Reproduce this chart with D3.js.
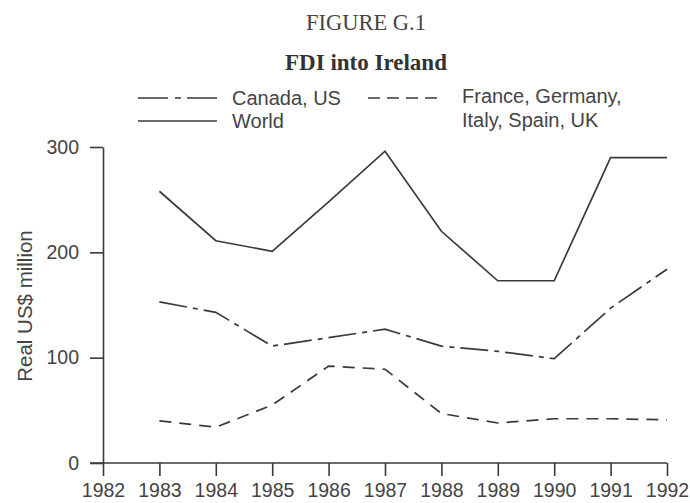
<!DOCTYPE html>
<html>
<head>
<meta charset="utf-8">
<script src="https://cdn.jsdelivr.net/npm/d3@7"></script>
<style>
  html, body { margin: 0; padding: 0; background: #fff; }
  svg { display: block; }
</style>
</head>
<body>
<svg id="chart" width="690" height="503"></svg>
<script>
// FDI into Ireland, real US$ million, 1983-1992
const years = [1983, 1984, 1985, 1986, 1987, 1988, 1989, 1990, 1991, 1992];
const world = [258, 211, 201, 248, 296, 220, 173, 173, 290, 290];
const canadaUS = [153, 143, 111, 119, 127, 111, 106, 99, 147, 184];
const europe = [40, 34, 55, 92, 89, 47, 38, 42, 42, 41];
const xTicks = [1982, 1983, 1984, 1985, 1986, 1987, 1988, 1989, 1990, 1991, 1992];
const yTicks = [0, 100, 200, 300];

const ink = "#3a3a3a";
const textInk = "#444";
const sans = "'Liberation Sans', Arial, Helvetica, sans-serif";
const serif = "'Liberation Serif', 'Times New Roman', serif";

const svg = d3.select("#chart");

const x = d3.scaleLinear().domain([1982, 1992]).range([103, 667]);
const y = d3.scaleLinear().domain([0, 300]).range([463, 147]);

// Titles
svg.append("text")
  .attr("x", 366).attr("y", 30)
  .attr("text-anchor", "middle")
  .attr("font-family", serif).attr("font-size", 22.5)
  .attr("fill", textInk)
  .text("FIGURE G.1");

svg.append("text")
  .attr("x", 366).attr("y", 70)
  .attr("text-anchor", "middle")
  .attr("font-family", serif).attr("font-size", 23).attr("font-weight", "bold")
  .attr("fill", "#333")
  .text("FDI into Ireland");

// Axes
const yAxis = d3.axisLeft(y).tickValues(yTicks).tickSizeInner(13).tickSizeOuter(0).tickPadding(11);
const xAxis = d3.axisBottom(x).tickValues(xTicks).tickSizeInner(13).tickSizeOuter(0).tickPadding(6)
  .tickFormat(d3.format("d"));

const gy = svg.append("g").attr("transform", `translate(${x(1982)},0)`).call(yAxis);
const gx = svg.append("g").attr("transform", `translate(0,${y(0)})`).call(xAxis);

// extend the baseline left to meet the zero tick
gx.select(".domain").attr("d", `M${x(1982) - 13},0H${x(1992)}`);

[gy, gx].forEach(g => {
  g.select(".domain").attr("stroke", ink).attr("stroke-width", 1.6);
  g.selectAll(".tick line").attr("stroke", ink).attr("stroke-width", 1.6);
  g.selectAll(".tick text")
    .attr("font-family", sans).attr("font-size", 19.5)
    .attr("fill", textInk);
});
gx.selectAll(".tick text").attr("dy", "0.76em");

// Y axis title
svg.append("text")
  .attr("transform", `translate(32,${(y(0) + y(300)) / 2 + 1}) rotate(-90)`)
  .attr("text-anchor", "middle")
  .attr("font-family", sans).attr("font-size", 20.5)
  .attr("fill", textInk)
  .text("Real US$ million");

// Series lines
const line = d3.line().x((d, i) => x(years[i])).y(d => y(d));

const series = [
  { values: world, dash: null },
  { values: canadaUS, dash: "28 6 5 6" },
  { values: europe, dash: "12 8" }
];

series.forEach(s => {
  svg.append("path")
    .datum(s.values)
    .attr("d", line)
    .attr("fill", "none")
    .attr("stroke", ink)
    .attr("stroke-width", 1.7)
    .attr("stroke-dasharray", s.dash);
});

// Legend
const legend = [
  { label: ["Canada, US"], dash: "30 7 6 6", x0: 138, x1: 217, ly: 98, tx: 232, ty: 105 },
  { label: ["World"], dash: null, x0: 138, x1: 217, ly: 121, tx: 232, ty: 128 },
  { label: ["France, Germany,", "Italy, Spain, UK"], dash: "12 7", x0: 368, x1: 441, ly: 98, tx: 462, ty: 103 }
];

legend.forEach(l => {
  svg.append("line")
    .attr("x1", l.x0).attr("x2", l.x1)
    .attr("y1", l.ly).attr("y2", l.ly)
    .attr("stroke", ink).attr("stroke-width", 1.7)
    .attr("stroke-dasharray", l.dash);
  const t = svg.append("text")
    .attr("font-family", sans).attr("font-size", 20)
    .attr("fill", textInk);
  l.label.forEach((s, i) => {
    t.append("tspan").attr("x", l.tx).attr("y", l.ty + i * 24).text(s);
  });
});
</script>
</body>
</html>
